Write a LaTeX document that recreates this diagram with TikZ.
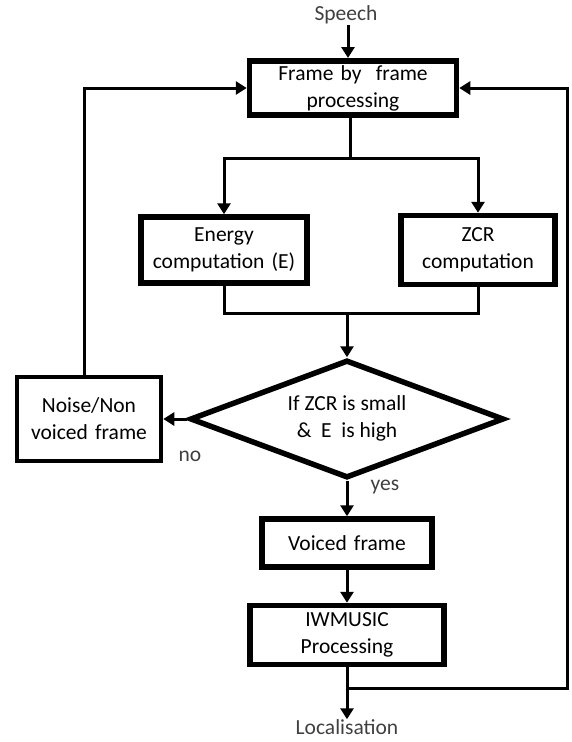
\documentclass[tikz,border=0pt]{standalone}
\usepackage{fontspec}
\setmainfont{Carlito}
\usepackage{xcolor}
\usetikzlibrary{shapes.geometric}
\usetikzlibrary{arrows.meta}

\begin{document}
\begin{tikzpicture}[x=1pt, y=-1pt,
  every node/.style={font=\fontsize{21.5}{27}\selectfont},
  block/.style={rectangle, draw=black, line width=5.5pt, fill=white, text centered, inner sep=0pt},
  decision/.style={diamond, shape aspect=2.66, draw=black, line width=5.5pt, fill=white, text centered, inner sep=0pt},
  tag/.style={text=black!75, inner sep=1pt},
  line/.style={draw, line width=3pt, -{Triangle[length=11pt, width=13pt]}}]
\useasboundingbox (0,0) rectangle (571,742);
\node[tag] (speech) at (346,15) {Speech};
\node[block, minimum width=207pt, minimum height=54pt, text width=200pt] (frame) at (353,88) {Frame by\ \ frame\\processing};
\node[block, minimum width=166pt, minimum height=66pt, text width=160pt] (energy) at (224,250) {Energy\\computation (E)};
\node[block, minimum width=154pt, minimum height=69pt, text width=150pt] (zcr) at (478,250) {ZCR\\computation};
\node[decision, minimum width=314pt, minimum height=118pt] (decide) at (347,419) {\begin{tabular}{@{}c@{}}If ZCR is small\\\&\ \ E\ \ is high\end{tabular}};
\node[block, line width=4.5pt, minimum width=144pt, minimum height=84pt, text width=140pt] (noise) at (89,419) {Noise/Non\\voiced frame};
\node[block, minimum width=170pt, minimum height=48pt, text width=165pt] (voiced) at (347,543) {Voiced frame};
\node[block, minimum width=194pt, minimum height=59pt, text width=190pt] (iwmusic) at (347,635) {IWMUSIC\\Processing};
\node[tag, inner sep=0pt] (local) at (347,727) {Localisation};
\node[tag] (no) at (190,456) {no};
\node[tag] (yes) at (385,487) {yes};
\coordinate (fork) at (350,158);
\coordinate (merge) at (347,313);
\coordinate (back) at (567,688);
\begin{scope}[every path/.style=line]
\path (speech.south -| 348,0) -- (348,58);
\path (frame.south -| fork) -- (fork) -| (energy.north);
\path (fork) -| (zcr.north);
\path[-] (energy.south) |- (merge) -| (zcr.south);
\path (merge) -- (decide.north);
\path (decide.west) -- (noise.east);
\path (noise.north -| 84,0) |- (frame.west);
\path (decide.south) -- (voiced.north);
\path (voiced.south) -- (iwmusic.north);
\path (iwmusic.south) -- (local.north);
\path (iwmusic.south |- back) -- (back) |- (frame.east);
\end{scope}
\end{tikzpicture}
\end{document}
